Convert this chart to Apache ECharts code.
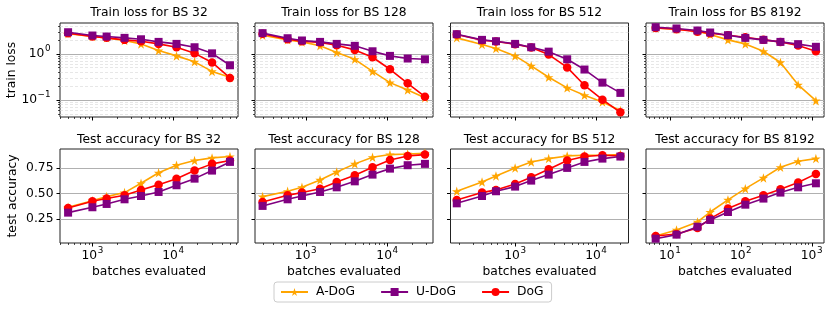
<!DOCTYPE html>
<html><head><meta charset="utf-8">
<script src="https://cdn.jsdelivr.net/npm/echarts@6/dist/echarts.min.js"></script>
<style>html,body{margin:0;padding:0;background:#fff}#c{width:831px;height:311px}</style>
</head><body><div id="c"></div><script>
const FONT = 'DejaVu Sans';
const FS = 12.3;
const batchSizes = ['32', '128', '512', '8192'];
const methods = ['A-DoG', 'U-DoG', 'DoG'];
const colors = { 'A-DoG': '#FFA500', 'U-DoG': '#800080', 'DoG': '#FF0000' };

// batches evaluated (x) per batch size
const x32   = [500, 1000, 1500, 2500, 4000, 6600, 11000, 18400, 30300, 50500];
const x128  = [296, 600, 900, 1500, 2400, 4000, 6600, 10800, 17800, 29000];
const x512  = [190, 390, 580, 1000, 1580, 2600, 4400, 7200, 12000, 20000];
const x8192 = [6.3, 12.4, 24.5, 37, 66, 116, 209, 363, 645, 1150];

// train loss
const lossA32 = [2.68, 2.34, 2.19, 1.92, 1.62, 1.16, 0.89, 0.66, 0.41, 0.306];
const lossU32 = [2.9, 2.46, 2.34, 2.19, 2.04, 1.79, 1.62, 1.37, 1.01, 0.557];
const lossD32 = [2.77, 2.34, 2.19, 1.98, 1.85, 1.62, 1.37, 1.01, 0.64, 0.296];
const lossA128 = [2.5, 1.98, 1.79, 1.47, 1.05, 0.75, 0.41, 0.234, 0.162, 0.11];
const lossU128 = [2.77, 2.15, 1.92, 1.79, 1.62, 1.47, 1.12, 0.89, 0.78, 0.75];
const lossD128 = [2.68, 2.04, 1.85, 1.73, 1.52, 1.2, 0.83, 0.456, 0.226, 0.116];
const lossA512 = [2.19, 1.57, 1.28, 0.89, 0.54, 0.306, 0.18, 0.124, 0.089, 0.058];
const lossU512 = [2.63, 1.98, 1.85, 1.62, 1.37, 1.1, 0.75, 0.45, 0.234, 0.14];
const lossD512 = [2.6, 1.95, 1.82, 1.6, 1.35, 0.95, 0.50, 0.205, 0.1, 0.053];
const lossA8192 = [3.6, 3.38, 3.06, 2.59, 1.98, 1.62, 1.12, 0.64, 0.21, 0.095];
const lossU8192 = [3.73, 3.5, 3.16, 2.86, 2.5, 2.19, 1.98, 1.79, 1.6, 1.4];
const lossD8192 = [3.6, 3.38, 2.96, 2.77, 2.5, 2.26, 1.98, 1.79, 1.49, 1.12];

// test accuracy
const accA32 = [0.366, 0.43, 0.469, 0.508, 0.598, 0.70, 0.773, 0.818, 0.844, 0.857];
const accU32 = [0.314, 0.366, 0.398, 0.443, 0.475, 0.514, 0.579, 0.643, 0.721, 0.805];
const accD32 = [0.359, 0.424, 0.45, 0.482, 0.534, 0.585, 0.643, 0.721, 0.786, 0.818];
const accA128 = [0.469, 0.521, 0.559, 0.63, 0.708, 0.786, 0.85, 0.876, 0.882, 0.889];
const accU128 = [0.379, 0.443, 0.475, 0.514, 0.559, 0.617, 0.682, 0.74, 0.773, 0.786];
const accD128 = [0.417, 0.482, 0.508, 0.546, 0.611, 0.676, 0.753, 0.824, 0.863, 0.876];
const accA512 = [0.52, 0.611, 0.669, 0.747, 0.805, 0.837, 0.863, 0.869, 0.869, 0.876];
const accU512 = [0.404, 0.475, 0.521, 0.566, 0.624, 0.682, 0.747, 0.805, 0.837, 0.857];
const accD512 = [0.437, 0.508, 0.534, 0.592, 0.656, 0.734, 0.818, 0.857, 0.869, 0.863];
const accA8192 = [0.088, 0.146, 0.224, 0.32, 0.437, 0.546, 0.65, 0.753, 0.811, 0.837];
const accU8192 = [0.062, 0.101, 0.178, 0.243, 0.32, 0.391, 0.45, 0.508, 0.559, 0.598];
const accD8192 = [0.088, 0.107, 0.165, 0.256, 0.353, 0.424, 0.482, 0.54, 0.605, 0.689];

// axis ranges and ticks
const xMins = [397, 239, 159, 4.6];
const xMaxs = [63500, 36400, 25200, 1496];
const lossMin = 0.042, lossMax = 4.6;
const accMin = 0.02, accMax = 0.93;
const lossTicks = [0.1, 1];
const accTicks = [0.25, 0.5, 0.75];

const xs = [x32, x128, x512, x8192];
const loss = [
  { 'A-DoG': lossA32, 'U-DoG': lossU32, 'DoG': lossD32 },
  { 'A-DoG': lossA128, 'U-DoG': lossU128, 'DoG': lossD128 },
  { 'A-DoG': lossA512, 'U-DoG': lossU512, 'DoG': lossD512 },
  { 'A-DoG': lossA8192, 'U-DoG': lossU8192, 'DoG': lossD8192 }
];
const acc = [
  { 'A-DoG': accA32, 'U-DoG': accU32, 'DoG': accD32 },
  { 'A-DoG': accA128, 'U-DoG': accU128, 'DoG': accD128 },
  { 'A-DoG': accA512, 'U-DoG': accU512, 'DoG': accD512 },
  { 'A-DoG': accA8192, 'U-DoG': accU8192, 'DoG': accD8192 }
];

const STAR = 'path://M0,-1L0.2245,-0.309L0.951,-0.309L0.363,0.118L0.588,0.809L0,0.382L-0.588,0.809L-0.363,0.118L-0.951,-0.309L-0.2245,-0.309Z';
const symbols = { 'A-DoG': STAR, 'U-DoG': 'rect', 'DoG': 'circle' };
const symSizes = { 'A-DoG': 9.5, 'U-DoG': 8, 'DoG': 8.5 };

const lefts = [60, 255, 450.5, 646];
const W = 178;
const tops = [23, 149];
const H = 94;

function powLabel(v) {
  const e = Math.log10(v);
  const r = Math.round(e);
  if (Math.abs(e - r) > 1e-6) return '';
  return '{b|10}{s|' + String(r).replace('-', '\u2212') + '}';
}
const powRich = {
  b: { fontFamily: FONT, fontSize: FS, color: '#000' },
  s: { fontFamily: FONT, fontSize: 8.8, color: '#000', padding: [0, 0, 10, 0.5] }
};

function minorLogValues(lo, hi) {
  const out = [];
  for (let k = Math.floor(Math.log10(lo)) - 1; k <= Math.ceil(Math.log10(hi)); k++) {
    for (let m = 2; m <= 9; m++) {
      const v = m * Math.pow(10, k);
      if (v > lo && v < hi) out.push(v);
    }
  }
  return out;
}
function majorLogValues(lo, hi) {
  const out = [];
  for (let k = Math.floor(Math.log10(lo)); k <= Math.ceil(Math.log10(hi)); k++) {
    const v = Math.pow(10, k);
    if (v >= lo && v <= hi) out.push(v);
  }
  return out;
}

function renderDecor(params, api) {
  const kind = api.value(2);
  const p = api.coord([api.value(0), api.value(1)]);
  const cs = params.coordSys;
  let shape, style;
  if (kind === 0 || kind === 1) {
    const L = kind === 0 ? 3.5 : 2;
    const x = Math.round(p[0]) + 0.5;
    const y = cs.y + cs.height;
    shape = { x1: x, y1: y, x2: x, y2: y + L };
    style = { stroke: '#000', lineWidth: kind === 0 ? 1 : 0.7 };
  } else if (kind === 2 || kind === 3) {
    const L = kind === 2 ? 3.5 : 2;
    const y = Math.round(p[1]) + 0.5;
    shape = { x1: cs.x, y1: y, x2: cs.x - L, y2: y };
    style = { stroke: '#000', lineWidth: kind === 2 ? 1 : 0.7 };
  } else if (kind === 4) {
    const y = Math.round(p[1]) + 0.5;
    shape = { x1: cs.x, y1: y, x2: cs.x + cs.width, y2: y };
    style = { stroke: '#b0b0b0', lineWidth: 1 };
  } else {
    const y = Math.round(p[1]) + 0.5;
    shape = { x1: cs.x, y1: y, x2: cs.x + cs.width, y2: y };
    style = { stroke: '#dcdcdc', lineWidth: 0.7, lineDash: [3, 2] };
  }
  return { type: 'line', shape: shape, style: style, silent: true };
}

const grid = [], xAxis = [], yAxis = [], series = [], graphic = [];
const baseText = { fontFamily: FONT, fontSize: FS, color: '#000' };

for (let r = 0; r < 2; r++) {
  for (let c = 0; c < 4; c++) {
    const gi = r * 4 + c;
    grid.push({ left: lefts[c], top: tops[r], width: W, height: H, show: true,
      borderColor: '#222', borderWidth: 1, backgroundColor: 'transparent', containLabel: false });
    xAxis.push({
      type: 'log', logBase: 10, gridIndex: gi, min: xMins[c], max: xMaxs[c],
      axisLine: { show: false }, axisTick: { show: false }, splitLine: { show: false },
      minorTick: { show: false }, minorSplitLine: { show: false },
      axisLabel: { show: r === 1, formatter: powLabel, rich: powRich, margin: 3, ...baseText, showMinLabel: false, showMaxLabel: false, hideOverlap: false },
      name: r === 1 ? 'batches evaluated' : '', nameLocation: 'middle', nameGap: 23,
      nameTextStyle: baseText
    });
    if (r === 0) {
      yAxis.push({
        type: 'log', logBase: 10, gridIndex: gi, min: lossMin, max: lossMax,
        axisLine: { show: false }, axisTick: { show: false }, splitLine: { show: false },
        axisLabel: { show: c === 0, formatter: powLabel, rich: powRich, margin: 9.5, ...baseText, showMinLabel: false, showMaxLabel: false },
        name: c === 0 ? 'train loss' : '', nameLocation: 'middle', nameGap: 41, nameTextStyle: baseText
      });
    } else {
      yAxis.push({
        type: 'value', gridIndex: gi, min: accMin, max: accMax,
        axisLine: { show: false }, axisTick: { show: false }, splitLine: { show: false },
        axisLabel: { show: c === 0, customValues: accTicks, formatter: v => v.toFixed(2), margin: 6.5, ...baseText },
        name: c === 0 ? 'test accuracy' : '', nameLocation: 'middle', nameGap: 41, nameTextStyle: baseText
      });
    }
    // decorations: ticks and grid lines
    const yLo = r === 0 ? lossMin : accMin;
    const decor = [];
    majorLogValues(xMins[c], xMaxs[c]).forEach(v => decor.push([v, yLo, 0]));
    minorLogValues(xMins[c], xMaxs[c]).forEach(v => decor.push([v, yLo, 1]));
    if (r === 0) {
      minorLogValues(lossMin, lossMax).forEach(v => { decor.push([xMins[c], v, 5]); decor.push([xMins[c], v, 3]); });
      lossTicks.forEach(v => { decor.push([xMins[c], v, 4]); decor.push([xMins[c], v, 2]); });
    } else {
      accTicks.forEach(v => { decor.push([xMins[c], v, 4]); decor.push([xMins[c], v, 2]); });
    }
    series.push({ type: 'custom', name: 'decor' + gi, xAxisIndex: gi, yAxisIndex: gi, data: decor,
      renderItem: renderDecor, z: 1, silent: true, clip: false, tooltip: { show: false } });

    const src = r === 0 ? loss[c] : acc[c];
    ['A-DoG', 'DoG', 'U-DoG'].forEach((m, mi) => {
      series.push({
        type: 'line', name: m, xAxisIndex: gi, yAxisIndex: gi,
        data: xs[c].map((x, i) => [x, src[m][i]]),
        symbol: symbols[m], symbolSize: symSizes[m], showSymbol: true,
        lineStyle: { color: colors[m], width: 1.6 },
        itemStyle: { color: colors[m], borderWidth: 0 },
        z: 3 + mi, animation: false, clip: false
      });
    });

    graphic.push({ type: 'text', x: lefts[c] + W / 2, y: r === 0 ? 13 : 139.5,
      style: { text: (r === 0 ? 'Train loss for BS ' : 'Test accuracy for BS ') + batchSizes[c],
        font: FS + 'px "' + FONT + '"', fill: '#000', align: 'center', verticalAlign: 'middle',
        textAlign: 'center', textVerticalAlign: 'middle' } });
  }
}

const chart = echarts.init(document.getElementById('c'), null, { renderer: 'canvas' });
chart.setOption({
  animation: false,
  backgroundColor: '#fff',
  grid, xAxis, yAxis, series, graphic,
  legend: {
    data: methods, left: 274, top: 282, orient: 'horizontal',
    itemWidth: 27, itemHeight: 10, itemGap: 25,
    padding: [4, 8, 4, 6], borderColor: '#cccccc', borderWidth: 1, borderRadius: 3,
    backgroundColor: '#fff',
    textStyle: { fontFamily: FONT, fontSize: FS, color: '#000', padding: [0, 0, 0, 3] },
    selectedMode: false
  }
});
</script></body></html>
